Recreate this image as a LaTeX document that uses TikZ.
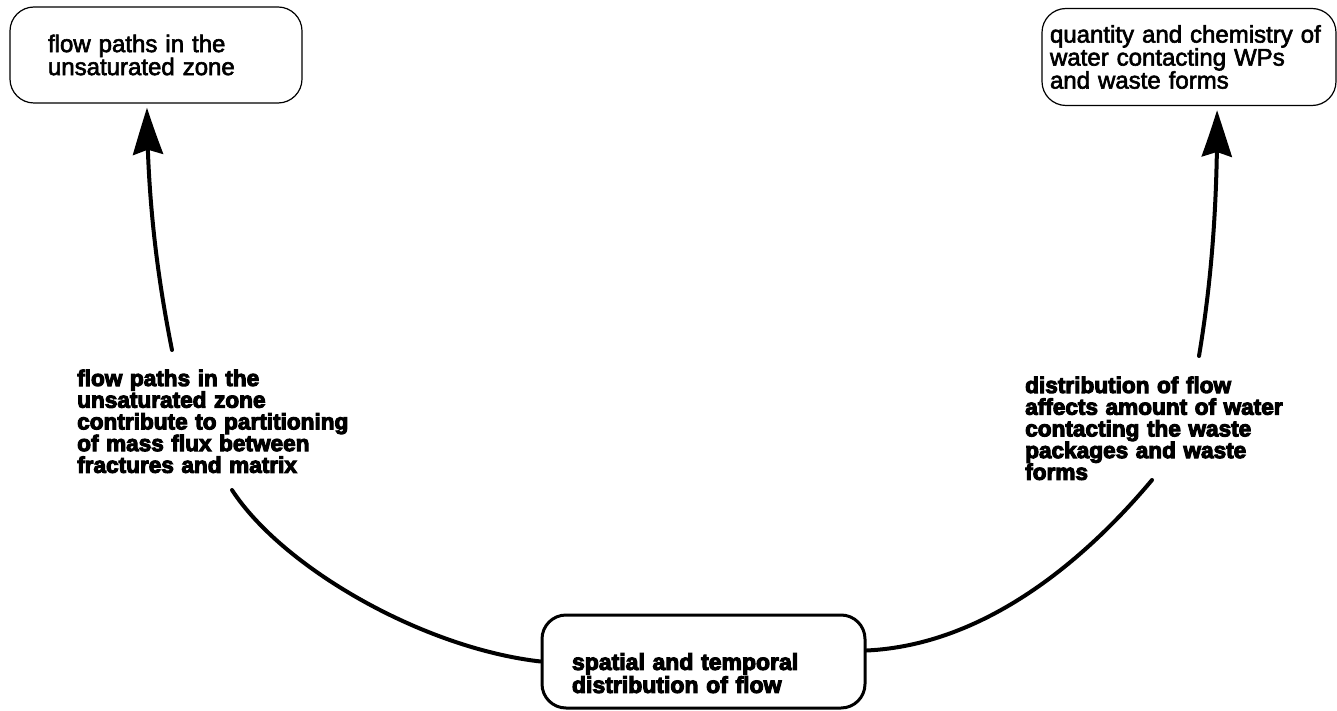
\documentclass[tikz,border=0pt]{standalone}
\usepackage{fontspec}
\setmainfont{Liberation Sans}
% a slightly heavier regular face and a heavy bold face
\newfontfamily\boxfont{Liberation Sans}[FakeBold=2.5]
\newfontfamily\heavyfont{Liberation Sans Bold}[FakeBold=4.5]
\usetikzlibrary{arrows.meta,bending}

\begin{document}
\begin{tikzpicture}[x=1pt,y=-1pt,
  conn/.style={line width=4pt, line cap=round},
  tip/.style={-{Stealth[length=48pt,width=30pt,inset=5pt,bend]}},
  topbox/.style={draw, line width=1.2pt, rounded corners=24pt, align=left,
    font=\boxfont\fontsize{24}{23}\selectfont},
  botbox/.style={draw, line width=3pt, rounded corners=24pt, align=left,
    font=\heavyfont\fontsize{23}{23}\selectfont},
  lbl/.style={align=left, inner sep=0pt, text width=290pt,
    font=\heavyfont\fontsize{22.6}{21.7}\selectfont},
]
% page frame
\fill[white] (0,0) rectangle (1337,711);
\useasboundingbox (0,0) rectangle (1337,711);

% boxes
\node[topbox, text width=216pt, inner xsep=38pt, minimum height=96pt] (tl) at (156,55)
  {flow paths in the\\unsaturated zone};
\node[topbox, text width=278pt, inner xsep=8pt, minimum height=97pt] (tr) at (1189,57)
  {quantity and chemistry of\\water contacting WPs\\and waste forms};
\node[botbox, text width=263pt, inner xsep=30pt, minimum height=93pt] (bot) at (703.5,661.5)
  {\rule{0pt}{40pt}spatial and temporal\\distribution of flow};

% connector labels
\node[lbl, anchor=base west] (ll) at (77,386)
  {flow paths in the\\unsaturated zone\\contribute to partitioning\\of mass flux between\\fractures and matrix};
\node[lbl, anchor=base west] (rl) at (1025,393)
  {distribution of flow\\affects amount of water\\contacting the waste\\packages and waste\\forms};

% ends of the connector pieces on either side of the labels
\coordinate (la) at (232,490);
\coordinate (lb) at (172,350);
\coordinate (ra) at (1152,480);
\coordinate (rb) at (1199,356);

% left connector
\draw[conn] (bot.west) .. controls (422,648) and (282,567) .. (la);
\draw[conn, tip, shorten >=4pt] (lb) .. controls (158,280) and (147,200) .. ([xshift=-9pt]tl.south);

% right connector
\draw[conn] ([yshift=11pt]bot.east) .. controls (985,645) and (1085,560) .. (ra);
\draw[conn, tip, shorten >=4pt] (rb) .. controls (1210,290) and (1218,210) .. ([xshift=28pt]tr.south);
\end{tikzpicture}
\end{document}
